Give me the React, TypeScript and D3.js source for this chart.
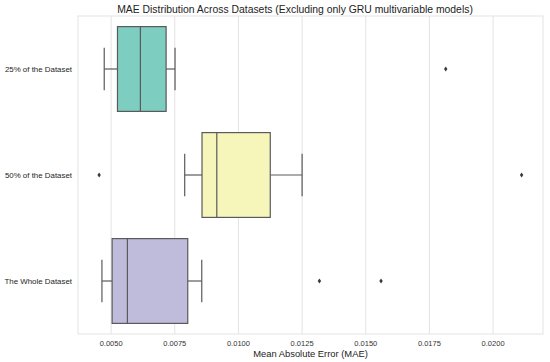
import React from 'react';
import * as d3 from 'd3';

// dataset groups
const categories = ['25% of the Dataset', '50% of the Dataset', 'The Whole Dataset'];
const whiskerLow = [0.00473, 0.00789, 0.00464];
const q1 = [0.00525, 0.00857, 0.00504];
const median = [0.00615, 0.00915, 0.00564];
const q3 = [0.00716, 0.01125, 0.00801];
const whiskerHigh = [0.00751, 0.0125, 0.00856];
const outliers = [[0.01814], [0.00453, 0.02112], [0.01318, 0.0156]];
const boxColors = ['#7dcdc0', '#f6f6bb', '#bfbcdb'];
const xTicks = [0.005, 0.0075, 0.01, 0.0125, 0.015, 0.0175, 0.02];

const W = 550;
const H = 362;
const margin = { left: 78, right: 7, top: 16, bottom: 28 };

const App = () => {
  const x = d3.scaleLinear()
    .domain([0.0037, 0.02196])
    .range([margin.left, W - margin.right]);
  const y = d3.scaleBand()
    .domain(categories)
    .range([margin.top, H - margin.bottom])
    .paddingInner(0.2)
    .paddingOuter(0.1);
  const lineColor = '#5a5a5a';
  const font = 'Liberation Sans, Arial, sans-serif';
  const bw = y.bandwidth();
  const capH = bw * 0.5;

  return (
    <svg width={W} height={H} style={{ position: 'absolute', left: 0, top: 0, background: '#fff' }}>
      <text x={295} y={12.5} textAnchor="middle" fontFamily={font} fontSize={10.4} fill="#222">
        MAE Distribution Across Datasets (Excluding only GRU multivariable models)
      </text>
      {/* grid */}
      {xTicks.map(t => (
        <line key={t} x1={x(t)} x2={x(t)} y1={margin.top} y2={H - margin.bottom} stroke="#e3e3e3" strokeWidth={1} />
      ))}
      <rect x={margin.left} y={margin.top} width={W - margin.left - margin.right}
        height={H - margin.top - margin.bottom} fill="none" stroke="#e3e3e3" strokeWidth={1} />
      {categories.map((c, i) => {
        const top = y(c) as number;
        const cy = top + bw / 2;
        return (
          <g key={c}>
            <line x1={x(whiskerLow[i])} x2={x(q1[i])} y1={cy} y2={cy} stroke={lineColor} strokeWidth={1.2} />
            <line x1={x(q3[i])} x2={x(whiskerHigh[i])} y1={cy} y2={cy} stroke={lineColor} strokeWidth={1.2} />
            <line x1={x(whiskerLow[i])} x2={x(whiskerLow[i])} y1={cy - capH / 2} y2={cy + capH / 2} stroke={lineColor} strokeWidth={1.2} />
            <line x1={x(whiskerHigh[i])} x2={x(whiskerHigh[i])} y1={cy - capH / 2} y2={cy + capH / 2} stroke={lineColor} strokeWidth={1.2} />
            <rect x={x(q1[i])} y={top} width={x(q3[i]) - x(q1[i])} height={bw}
              fill={boxColors[i]} stroke={lineColor} strokeWidth={1.2} />
            <line x1={x(median[i])} x2={x(median[i])} y1={top} y2={top + bw} stroke={lineColor} strokeWidth={1.2} />
            {outliers[i].map(o => (
              <path key={o} d={`M${x(o)},${cy - 2.5}L${x(o) + 1.7},${cy}L${x(o)},${cy + 2.5}L${x(o) - 1.7},${cy}Z`} fill="#3a3a3a" />
            ))}
            <text x={72} y={cy} dy="0.35em" textAnchor="end" fontFamily={font} fontSize={7.9} fill="#262626">{c}</text>
          </g>
        );
      })}
      {xTicks.map(t => (
        <text key={t} x={x(t)} y={346} textAnchor="middle" fontFamily={font} fontSize={7.5} fill="#333">
          {d3.format('.4f')(t)}
        </text>
      ))}
      <text x={(margin.left + W - margin.right) / 2} y={357} textAnchor="middle" fontFamily={font} fontSize={9.4} fill="#222">
        Mean Absolute Error (MAE)
      </text>
    </svg>
  );
};

export default App;
